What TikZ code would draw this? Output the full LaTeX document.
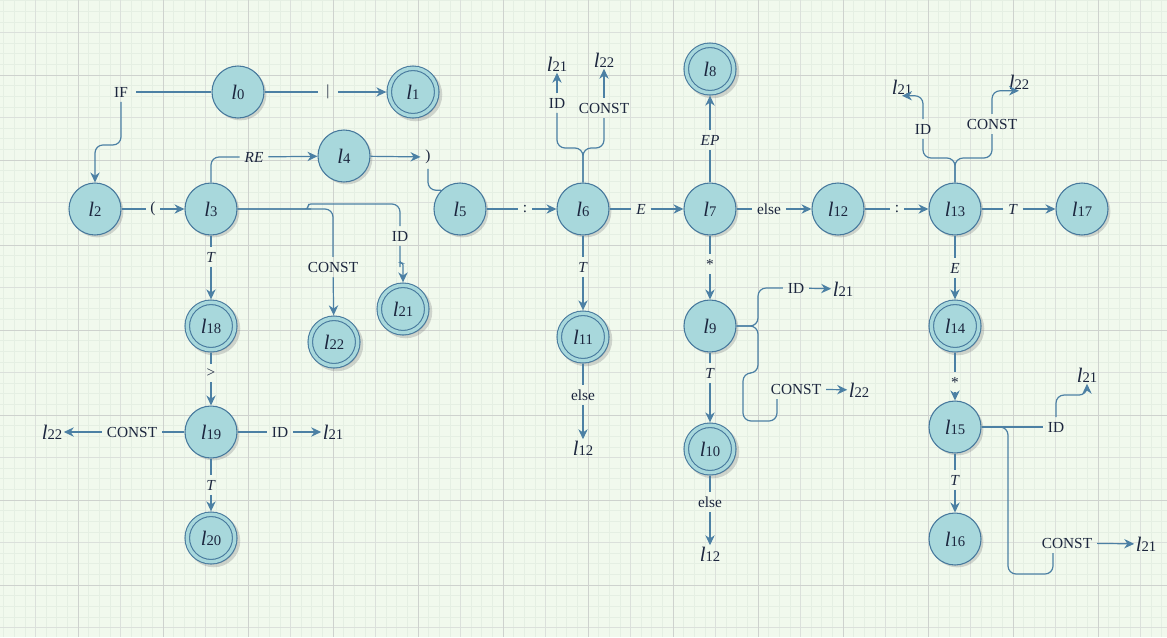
\documentclass[tikz,border=0pt]{standalone}
\usepackage{fontspec}
\setmainfont{Liberation Serif}
\usepackage{tikz}
\usetikzlibrary{
  arrows.meta,%
  shadows,%
  calc,%
  positioning
}
\definecolor{bgcol}{RGB}{241, 249, 237}
\definecolor{gridminor}{RGB}{229, 239, 227}
\definecolor{gridmid}{RGB}{219, 224, 219}
\definecolor{gridmajor}{RGB}{206, 210, 206}
\definecolor{stfill}{RGB}{168, 216, 220}
\definecolor{stline}{RGB}{70, 120, 156}
\definecolor{edgecol}{RGB}{76, 128, 164}
\definecolor{txtcol}{RGB}{28, 38, 62}
\newcommand{\stname}[1]{{\fontsize{15.5}{17}\selectfont\textit{l}}{\fontsize{11}{13}\selectfont #1}}
\tikzset{
  state/.style={circle, draw=stline, fill=stfill, line width=0.8pt,
    minimum size=39pt, inner sep=0pt, text=txtcol,
    drop shadow={shadow xshift=1.8pt, shadow yshift=-1.8pt, opacity=0.3}},
  accept/.style={state, double=stfill, double distance=2.6pt,
    minimum size=35.6pt, outer sep=2.2pt,
    drop shadow={shadow xshift=1.8pt, shadow yshift=-1.8pt,
      shadow scale=1.12, opacity=0.3}},
  lbl/.style={inner sep=3.5pt, text=txtcol, font=\fontsize{11.5}{13}\selectfont},
  stlbl/.style={inner sep=1pt, text=txtcol},
  edge/.style={draw=edgecol, line width=0.9pt, rounded corners=6pt},
  arr/.style={edge, -{Stealth[length=7.5pt, width=7pt, inset=2.4pt]}}
}
\begin{document}
\begin{tikzpicture}[x=0.75pt, y=-0.75pt]
  \useasboundingbox (0,0) rectangle (1167,637); %
  % background grid
  \fill[bgcol] (0,0) rectangle (1167,637); %
  \foreach \i in {0,...,109}
    \draw[gridminor, line width=0.5pt] ({3.625+\i*10.625},0) -- ++(0,637); %
  \foreach \j in {0,...,59}
    \draw[gridminor, line width=0.5pt] (0,{0.625+\j*10.625}) -- ++(1167,0); %
  \foreach \i in {0,...,26}
    \draw[gridmid, line width=0.6pt] ({35.5+\i*42.5},0) -- ++(0,637); %
  \foreach \j in {0,...,14}
    \draw[gridmid, line width=0.6pt] (0,{32.5+\j*42.5}) -- ++(1167,0); %
  \foreach \i in {0,...,12}
    \draw[gridmajor, line width=0.75pt] ({78+\i*85},0) -- ++(0,637); %
  \foreach \j in {0,...,6}
    \draw[gridmajor, line width=0.75pt] (0,{75+\j*85}) -- ++(1167,0); %

  % states
  \node[state] (l0) at (238,92) {\stname{0}}; %
  \node[accept] (l1) at (413,92) {\stname{1}}; %
  \node[state] (l2) at (95,209) {\stname{2}}; %
  \node[state] (l3) at (211,209) {\stname{3}}; %
  \node[state] (l4) at (344,156) {\stname{4}}; %
  \node[state] (l5) at (460,209) {\stname{5}}; %
  \node[state] (l6) at (583,209) {\stname{6}}; %
  \node[state] (l7) at (710,209) {\stname{7}}; %
  \node[accept] (l8) at (710,69) {\stname{8}}; %
  \node[state] (l12) at (838,209) {\stname{12}}; %
  \node[state] (l13) at (955,209) {\stname{13}}; %
  \node[state] (l17) at (1082,209) {\stname{17}}; %
  \node[accept] (l18) at (211,326) {\stname{18}}; %
  \node[accept] (l22) at (334,342) {\stname{22}}; %
  \node[accept] (l21) at (403,309) {\stname{21}}; %
  \node[state] (l19) at (211,432) {\stname{19}}; %
  \node[accept] (l20) at (211,538) {\stname{20}}; %
  \node[accept] (l11) at (583,337) {\stname{11}}; %
  \node[state] (l9) at (710,326) {\stname{9}}; %
  \node[accept] (l10) at (710,449) {\stname{10}}; %
  \node[accept] (l14) at (955,326) {\stname{14}}; %
  \node[state] (l15) at (955,427) {\stname{15}}; %
  \node[state] (l16) at (955,539) {\stname{16}}; %

  % edge labels and loose targets
  \node[lbl, inner xsep=6pt] (if) at (121,92) {IF}; %
  \node[lbl, inner xsep=6pt] (bar) at (328,92) {\textbar}; %
  \node[lbl] (lp) at (153,209) {(}; %
  \node[lbl] (re) at (254,157) {\textit{RE}}; %
  \node[lbl] (rp) at (428,157) {)}; %
  \node[lbl] (col1) at (525,209) {:}; %
  \node[lbl] (e1) at (641,209) {\textit{E}}; %
  \node[lbl] (else1) at (769,209) {else}; %
  \node[lbl] (col2) at (897,209) {:}; %
  \node[lbl] (t13) at (1013,209) {\textit{T}}; %
  \node[lbl] (t3) at (211,257) {\textit{T}}; %
  \node[lbl] (c3) at (333,267) {CONST}; %
  \node[lbl] (i3) at (400,236) {ID}; %
  \node[lbl] (gt) at (211,373) {>}; %
  \node[lbl] (c19) at (132,432) {CONST}; %
  \node[stlbl] (t22l) at (52,432) {\stname{22}}; %
  \node[lbl] (i19) at (280,432) {ID}; %
  \node[stlbl] (t21l) at (333,432) {\stname{21}}; %
  \node[lbl] (t19) at (211,485) {\textit{T}}; %
  \node[lbl] (i6) at (557,103) {ID}; %
  \node[stlbl] (t21a) at (557,64) {\stname{21}}; %
  \node[lbl] (c6) at (604,108) {CONST}; %
  \node[stlbl] (t22a) at (604,60) {\stname{22}}; %
  \node[lbl] (t6) at (583,267) {\textit{T}}; %
  \node[lbl] (else2) at (583,395) {else}; %
  \node[stlbl] (t12a) at (583,448) {\stname{12}}; %
  \node[lbl] (ep) at (710,140) {\textit{EP}}; %
  \node[lbl] (star1) at (710,264) {*}; %
  \node[lbl] (i9) at (796,288) {ID}; %
  \node[stlbl] (t21e) at (843,289) {\stname{21}}; %
  \node[lbl] (c9) at (796,389) {CONST}; %
  \node[stlbl] (t22e) at (859,390) {\stname{22}}; %
  \node[lbl] (t9) at (710,373) {\textit{T}}; %
  \node[lbl] (else3) at (710,502) {else}; %
  \node[stlbl] (t12b) at (710,554) {\stname{12}}; %
  \node[lbl] (i13) at (923,129) {ID}; %
  \node[stlbl] (t21b) at (902,87) {\stname{21}}; %
  \node[lbl] (c13) at (992,124) {CONST}; %
  \node[stlbl] (t22b) at (1019,82) {\stname{22}}; %
  \node[lbl] (e13) at (955,268) {\textit{E}}; %
  \node[lbl] (star2) at (955,382) {*}; %
  \node[lbl] (i15) at (1056,427) {ID}; %
  \node[stlbl] (t21c) at (1087,375) {\stname{21}}; %
  \node[lbl] (c15) at (1067,543) {CONST}; %
  \node[stlbl] (t21d) at (1146,544) {\stname{21}}; %
  \node[lbl] (t15) at (955,480) {\textit{T}}; %

  % main row
  \draw[edge] (l0) -- (if); %
  \draw[arr] (if.south) -- ++(0,43) -| (l2.north); %
  \draw[edge] (l0) -- (bar); %
  \draw[arr] (bar) -- (l1); %
  \draw[edge] (l2) -- (lp); %
  \draw[arr] (lp) -- (l3); %
  \draw[edge] (l3.north) |- (re.west); %
  \draw[arr] (re) -- (l4); %
  \draw[arr] (l4) -- (rp); %
  \draw[edge] (rp.south) |- (l5.north west); %
  \draw[edge] (l5) -- (col1); %
  \draw[arr] (col1) -- (l6); %
  \draw[edge] (l6) -- (e1); %
  \draw[arr] (e1) -- (l7); %
  \draw[edge] (l7) -- (else1); %
  \draw[arr] (else1) -- (l12); %
  \draw[edge] (l12) -- (col2); %
  \draw[arr] (col2) -- (l13); %
  \draw[edge] (l13) -- (t13); %
  \draw[arr] (t13) -- (l17); %

  % branches of l3
  \draw[edge] (l3.east) -| (c3.north); %
  \draw[arr] (c3) -- (l22); %
  \draw[edge] (l3.east) -- (303,209) [rounded corners=2pt] -- (308,209) -- (308,204)
    -- (330,204) [rounded corners=6pt] -| (i3.north); %
  \draw[arr] (i3.south) -- (400,259) [rounded corners=1.5pt] -- (400,263) -- (403,263)
    -- (403,267) -- (l21.north); %
  \draw[edge] (l3) -- (t3); %
  \draw[arr] (t3) -- (l18); %
  \draw[edge] (l18) -- (gt); %
  \draw[arr] (gt) -- (l19); %
  \draw[edge] (l19) -- (c19); %
  \draw[arr] (c19) -- (t22l); %
  \draw[edge] (l19) -- (i19); %
  \draw[arr] (i19) -- (t21l); %
  \draw[edge] (l19) -- (t19); %
  \draw[arr] (t19) -- (l20); %

  % branches of l6
  \draw[edge] (l6.north) -- (583,148) -| (i6.south); %
  \draw[edge] (l6.north) -- (583,148) -| (c6.south); %
  \draw[arr] (i6.north) -- (i6.north |- t21a.south); %
  \draw[arr] (c6.north) -- (c6.north |- t22a.south); %
  \draw[edge] (l6) -- (t6); %
  \draw[arr] (t6) -- (l11); %
  \draw[edge] (l11) -- (else2); %
  \draw[arr] (else2) -- (t12a); %

  % branches of l7 and l9
  \draw[edge] (l7) -- (ep); %
  \draw[arr] (ep) -- (l8); %
  \draw[edge] (l7) -- (star1); %
  \draw[arr] (star1) -- (l9); %
  \draw[edge] (l9.east) -- (758,326) |- (i9.west); %
  \draw[arr] (i9) -- (t21e); %
  \draw[edge] (l9.east) -- (758,326) -- (758,373) -- (743,373) -- (743,421)
    -| ($(c9.south)+(-19,0)$); %
  \draw[arr] (c9) -- (t22e); %
  \draw[edge] (l9) -- (t9); %
  \draw[arr] (t9) -- (l10); %
  \draw[edge] (l10) -- (else3); %
  \draw[arr] (else3) -- (t12b); %

  % branches of l13 and l15
  \draw[edge] (l13.north) -- (955,158) -| (i13.south); %
  \draw[edge] (l13.north) -- (955,158) -| (c13.south); %
  \draw[arr] (i13.north) |- (t21b.south); %
  \draw[arr] (c13.north) |- (t22b.south); %
  \draw[edge] (l13) -- (e13); %
  \draw[arr] (e13) -- (l14); %
  \draw[edge] (l14) -- (star2); %
  \draw[arr] (star2) -- (l15); %
  \draw[edge] (l15.east) -- (i15.west); %
  \draw[arr] (i15.north) -- ++(0,-22) -| (t21c.south); %
  \draw[edge] (l15.east) -- (1008,427) -- (1008,574) -| ($(c15.south)+(-14,0)$); %
  \draw[arr] (c15) -- (t21d); %
  \draw[edge] (l15) -- (t15); %
  \draw[arr] (t15) -- (l16); %
\end{tikzpicture}
\end{document}
